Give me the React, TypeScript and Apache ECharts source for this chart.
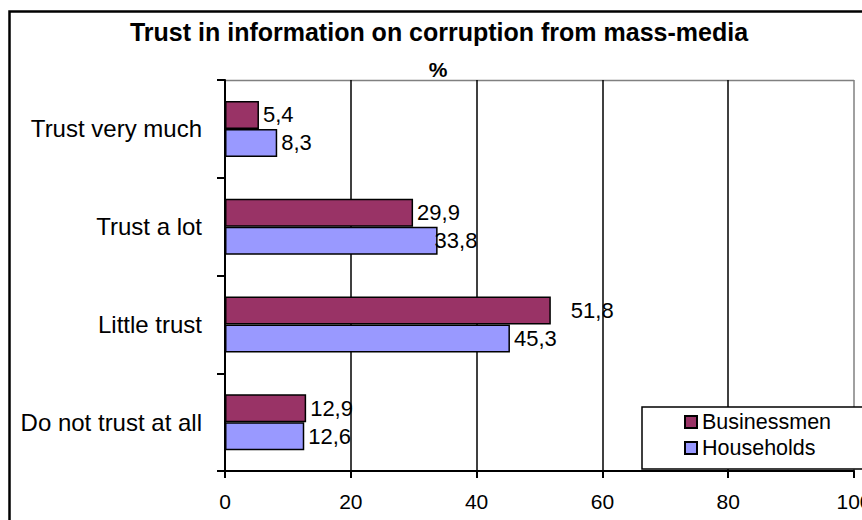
import React, { useEffect, useRef } from "react";
import * as echarts from "echarts";

const categories = ["Trust very much", "Trust a lot", "Little trust", "Do not trust at all"];
const businessmen = [5.4, 29.9, 51.8, 12.9];
const households = [8.3, 33.8, 45.3, 12.6];
const xTicks = { min: 0, max: 100, interval: 20 };
const titleText = "Trust in information on corruption from mass-media";
const subTitleText = "%";

const FONT = "'Liberation Sans', Arial, sans-serif";

const fmt = (p: any) => String(p.value).replace(".", ",");

export default function App() {
  const ref = useRef<HTMLDivElement>(null);
  useEffect(() => {
    if (!ref.current) return;
    const chart = echarts.init(ref.current, undefined, { renderer: "svg" });
    const labelBase = {
      show: true,
      position: "right",
      distance: 4,
      formatter: fmt,
      color: "#000",
      fontSize: 22,
      fontFamily: FONT,
    };
    const bizData = businessmen.map((v, i) =>
      i === 2 ? { value: v, label: { offset: [16, 0] } } : { value: v }
    );
    const hhData = households.map((v, i) =>
      i === 1 ? { value: v, label: { offset: [-7, 0] } } : { value: v }
    );
    chart.setOption({
      animation: false,
      backgroundColor: "#fff",
      textStyle: { fontFamily: FONT },
      title: [
        {
          text: titleText,
          left: 434,
          textAlign: "center",
          top: 14,
          textStyle: { fontSize: 25, fontWeight: "bold", color: "#000", fontFamily: FONT },
        },
        {
          text: subTitleText,
          left: 433,
          textAlign: "center",
          top: 54,
          textStyle: { fontSize: 21, fontWeight: "bold", color: "#000", fontFamily: FONT },
        },
      ],
      graphic: [
        {
          type: "polyline",
          shape: { points: [[1200, 11.5], [9.5, 11.5], [9.5, 1200]] },
          style: { fill: "none", stroke: "#000", lineWidth: 2.5 },
          silent: true,
        },
        {
          type: "line",
          shape: { x1: 225, y1: 80.5, x2: 854, y2: 80.5 },
          style: { stroke: "#808080", lineWidth: 1.5 },
          silent: true,
        },
        {
          type: "rect",
          z: 50,
          shape: { x: 642, y: 407, width: 400, height: 62 },
          style: { fill: "#fff", stroke: "none" },
          silent: true,
        },
        {
          type: "polyline",
          z: 51,
          shape: { points: [[1100, 407], [642, 407], [642, 469], [1100, 469]] },
          style: { fill: "none", stroke: "#000", lineWidth: 1.5 },
          silent: true,
        },
      ],
      legend: {
        data: ["Businessmen", "Households"],
        orient: "vertical",
        left: 684,
        top: 411,
        z: 60,
        padding: 0,
        itemGap: 4,
        itemWidth: 12,
        itemHeight: 12,
        icon: "rect",
        textStyle: { fontSize: 21.5, color: "#000", fontFamily: FONT, lineHeight: 22 },
      },
      grid: {
        left: 225,
        right: 8,
        top: 80,
        bottom: 49,
        show: false,
        outerBoundsMode: "none",
        containLabel: false,
      },
      xAxis: {
        type: "value",
        min: xTicks.min,
        max: xTicks.max,
        interval: xTicks.interval,
        axisLine: { show: true, lineStyle: { color: "#000", width: 2 } },
        axisTick: { show: true, length: 7, lineStyle: { color: "#000", width: 2 } },
        axisLabel: { color: "#000", fontSize: 21, margin: 20, fontFamily: FONT },
        splitLine: {
          show: true,
          lineStyle: { color: ["#000", "#000", "#000", "#000", "#000", "#808080"], width: 1.5 },
        },
      },
      yAxis: {
        type: "category",
        inverse: true,
        data: categories,
        axisLine: { show: true, lineStyle: { color: "#000", width: 2 } },
        axisTick: { show: true, length: 8, lineStyle: { color: "#000", width: 2 } },
        axisLabel: { color: "#000", fontSize: 24, margin: 23, fontFamily: FONT },
      },
      series: [
        {
          name: "Businessmen",
          type: "bar",
          data: bizData,
          barWidth: 28,
          barGap: "0%",
          itemStyle: { color: "#993366", borderColor: "#000", borderWidth: 1.5 },
          label: labelBase,
        },
        {
          name: "Households",
          type: "bar",
          data: hhData,
          barWidth: 28,
          barGap: "0%",
          itemStyle: { color: "#9999FF", borderColor: "#000", borderWidth: 1.5 },
          label: labelBase,
        },
      ],
    });
    return () => chart.dispose();
  }, []);
  return (
    <div
      ref={ref}
      style={{ position: "fixed", left: 0, top: 0, width: 862, height: 520 }}
    />
  );
}
